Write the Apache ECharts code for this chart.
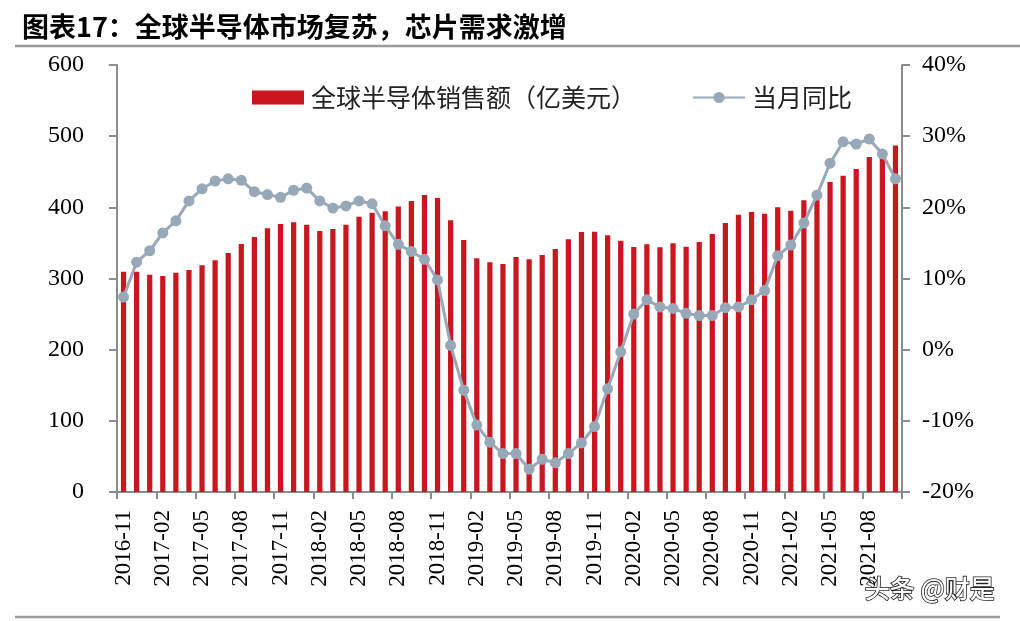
<!DOCTYPE html>
<html>
<head>
<meta charset="utf-8">
<script src="https://cdn.jsdelivr.net/npm/echarts@6/dist/echarts.min.js"></script>
<style>
html,body{margin:0;padding:0;background:#fff;}
#chart{width:1020px;height:621px;}
</style>
</head>
<body>
<div id="chart"></div>
<script>
var categories = [
 '2016-11','2016-12','2017-01','2017-02','2017-03','2017-04','2017-05','2017-06','2017-07','2017-08','2017-09','2017-10',
 '2017-11','2017-12','2018-01','2018-02','2018-03','2018-04','2018-05','2018-06','2018-07','2018-08','2018-09','2018-10',
 '2018-11','2018-12','2019-01','2019-02','2019-03','2019-04','2019-05','2019-06','2019-07','2019-08','2019-09','2019-10',
 '2019-11','2019-12','2020-01','2020-02','2020-03','2020-04','2020-05','2020-06','2020-07','2020-08','2020-09','2020-10',
 '2020-11','2020-12','2021-01','2021-02','2021-03','2021-04','2021-05','2021-06','2021-07','2021-08','2021-09','2021-10'
];
var sales = [
 309.5,309.5,305.3,303.5,308.0,312.0,318.5,325.5,335.8,348.4,358.3,370.5,
 376.5,379.0,375.6,366.7,369.5,375.6,386.8,392.5,394.4,401.0,409.0,417.3,
 413.0,381.7,354.0,328.3,322.7,320.3,330.2,326.9,333.0,341.4,355.0,365.3,
 365.8,360.6,353.0,344.2,348.0,343.8,349.4,344.7,351.3,362.5,378.0,389.6,
 393.4,391.0,400.0,395.3,409.8,419.0,435.6,444.4,453.8,470.7,471.0,487.0
];
var yoy = [
 7.4,12.3,13.9,16.4,18.1,20.9,22.6,23.7,24.0,23.8,22.2,21.8,
 21.4,22.4,22.7,20.9,19.9,20.2,20.9,20.5,17.4,14.8,13.8,12.7,
 9.8,0.6,-5.7,-10.6,-13.0,-14.6,-14.6,-16.8,-15.4,-15.9,-14.6,-13.1,
 -10.8,-5.5,-0.3,5.0,7.0,6.0,5.8,5.1,4.8,4.8,5.9,6.0,
 7.0,8.3,13.2,14.7,17.8,21.7,26.2,29.2,28.9,29.6,27.5,24.0
];
var seriesNames = ['全球半导体销售额（亿美元）','当月同比'];
var titleText = '图表17：全球半导体市场复苏，芯片需求激增';
var watermark = '头条 @财是';

var serif = '"Liberation Serif","Times New Roman",serif';
var cjk = '"Noto Sans CJK SC","Noto Sans",sans-serif';
var axisColor = '#8c8c8c';

var chart = echarts.init(document.getElementById('chart'), null, {renderer:'canvas'});
chart.setOption({
  animation:false,
  backgroundColor:'#fff',
  title:{
    text:titleText, left:17, top:8,
    textStyle:{fontFamily:cjk, fontSize:27, fontWeight:'bold', color:'#000'}
  },
  graphic:[
    {type:'line', shape:{x1:15,y1:46,x2:1020,y2:46}, style:{stroke:'#9a9a9a', lineWidth:2.5}},
    {type:'line', shape:{x1:15,y1:617,x2:1000,y2:617}, style:{stroke:'#9a9a9a', lineWidth:2.5}},
    {type:'text', left:864, top:575, z:100,
     style:{text:watermark, fill:'#fff', font:'500 25px "Noto Sans CJK SC"', stroke:'#222', lineWidth:1.6}}
  ],
  legend:{
    left:247, top:80, itemWidth:52, itemHeight:14, itemGap:56,
    textStyle:{fontFamily:cjk, fontSize:25, color:'#222', padding:[0,0,0,2]},
    data:[
      {name:seriesNames[0], icon:'rect'},
      {name:seriesNames[1]}
    ]
  },
  grid:{left:117, right:118, top:65, bottom:129, containLabel:false},
  xAxis:{
    type:'category', data:categories, boundaryGap:true,
    axisLine:{lineStyle:{color:axisColor, width:2}},
    axisTick:{show:true, interval:2, length:7, lineStyle:{color:axisColor, width:2}},
    axisLabel:{interval:2, rotate:90, margin:18, fontFamily:serif, fontSize:23, color:'#000'}
  },
  yAxis:[
    {type:'value', min:0, max:600, interval:100,
     axisLine:{show:true, lineStyle:{color:axisColor, width:2}},
     axisTick:{show:true, length:8, lineStyle:{color:axisColor, width:2}},
     splitLine:{show:false},
     axisLabel:{margin:33, fontFamily:serif, fontSize:24, color:'#000'}},
    {type:'value', min:-20, max:40, interval:10, position:'right',
     axisLine:{show:true, lineStyle:{color:axisColor, width:2}},
     axisTick:{show:true, length:8, lineStyle:{color:axisColor, width:2}},
     splitLine:{show:false},
     axisLabel:{margin:20, fontFamily:serif, fontSize:24, color:'#000', formatter:'{value}%'}}
  ],
  series:[
    {name:seriesNames[0], type:'bar', data:sales, barWidth:'40%',
     itemStyle:{color:'#C9161F'}},
    {name:seriesNames[1], type:'line', yAxisIndex:1, data:yoy, z:5,
     symbol:'circle', symbolSize:11, showSymbol:true, showAllSymbol:true,
     lineStyle:{color:'#97A8B9', width:3},
     itemStyle:{color:'#97A8B9'}}
  ]
});
</script>
</body>
</html>
